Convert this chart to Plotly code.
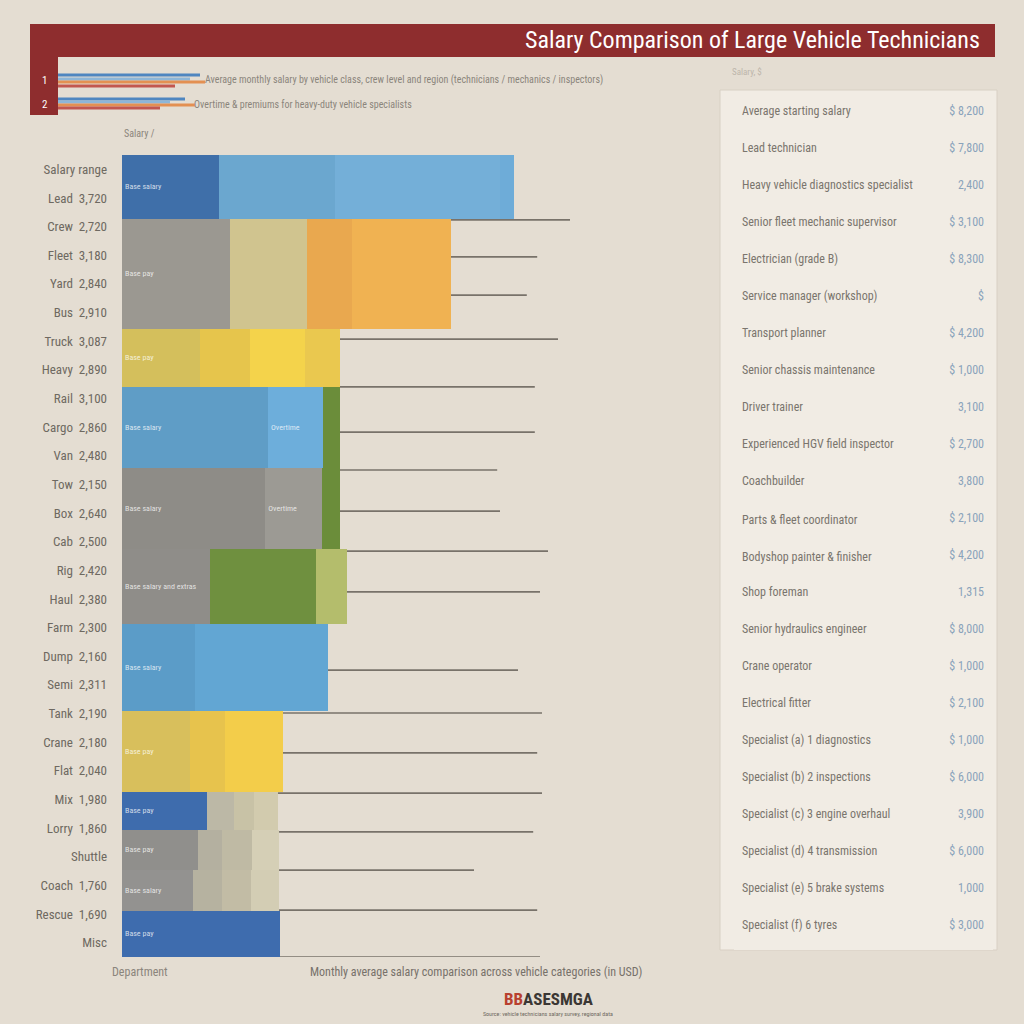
import numpy as np
import plotly.graph_objects as go

# ---------------- data ----------------
departments = ["Senior technicians", "Fleet mechanics", "Diesel specialists", "Electrical",
               "Body repair", "Hybrid systems", "Inspectors", "Apprentices",
               "Parts staff", "Service advisors", "Shop helpers", "Trainees"]
headcount = [22, 38, 20, 28, 28, 26, 30, 28, 13, 14, 14, 16]

seg_names = ["Base pay", "Overtime", "Shift premium", "Bonus"]
base_pay = [12.1, 13.5, 9.75, 18.25, 17.9, 11.0, 9.1, 8.5, 10.6, 9.5, 8.9, 19.75]
overtime = [14.5, 9.6, 6.25, 6.9, 7.1, 13.25, 16.6, 4.4, 3.4, 3.0, 3.6, 0]
shift_premium = [20.6, 5.6, 6.9, 2.1, 2.25, 3.9, 0, 7.25, 2.5, 3.75, 3.6, 0]
bonus = [1.75, 12.4, 4.4, 0, 0, 0, 0, 0, 3.0, 3.4, 3.5, 0]

bar_text = ["Base salary", "Base pay", "Base pay", "Base salary", "Base salary", "Base salary and extras",
            "Base salary", "Base pay", "Base pay", "Base pay", "Base salary", "Base pay"]
overtime_text = ["", "", "", "Overtime", "Overtime", "", "", "", "", "", "", ""]

benchmark_rows = [22.4, 35.2, 48.4, 63.6, 80.1, 95.7, 108.8, 123.0, 136.8, 150.9,
                  177.9, 192.7, 206.5, 220.4, 233.8, 247.0, 260.8, 277.0]
benchmark_salary = [56, 51.9, 50.6, 54.5, 51.6, 51.6, 46.9, 47.25, 53.25, 52.25,
                    49.5, 52.5, 51.9, 52.5, 51.4, 44, 51.9, 52.25]

row_labels = ["Salary range", "Lead\u20023,720", "Crew\u20022,720", "Fleet\u20023,180", "Yard\u20022,840",
              "Bus\u20022,910", "Truck\u20023,087", "Heavy\u20022,890", "Rail\u20023,100", "Cargo\u20022,860",
              "Van\u20022,480", "Tow\u20022,150", "Box\u20022,640", "Cab\u20022,500", "Rig\u20022,420",
              "Haul\u20022,380", "Farm\u20022,300", "Dump\u20022,160", "Semi\u20022,311", "Tank\u20022,190",
              "Crane\u20022,180", "Flat\u20022,040", "Mix\u20021,980", "Lorry\u20021,860", "Shuttle",
              "Coach\u20021,760", "Rescue\u20021,690", "Misc"]

panel_labels = ["Average starting salary", "Lead technician", "Heavy vehicle diagnostics specialist",
                "Senior fleet mechanic supervisor", "Electrician (grade B)", "Service manager (workshop)",
                "Transport planner", "Senior chassis maintenance", "Driver trainer",
                "Experienced HGV field inspector", "Coachbuilder", "Parts & fleet coordinator",
                "Bodyshop painter & finisher", "Shop foreman", "Senior hydraulics engineer",
                "Crane operator", "Electrical fitter", "Specialist (a) 1 diagnostics",
                "Specialist (b) 2 inspections", "Specialist (c) 3 engine overhaul",
                "Specialist (d) 4 transmission", "Specialist (e) 5 brake systems", "Specialist (f) 6 tyres"]
panel_values = ["$ 8,200", "$ 7,800", "2,400", "$ 3,100", "$ 8,300", "$", "$ 4,200", "$ 1,000",
                "3,100", "$ 2,700", "3,800", "$ 2,100", "$ 4,200", "1,315", "$ 8,000", "$ 1,000",
                "$ 2,100", "$ 1,000", "$ 6,000", "3,900", "$ 6,000", "1,000", "$ 3,000"]

# ---------------- styles ----------------
c_base = ["#3f6fa9", "#9b9891", "#d4bf5c", "#5f9dc6", "#8e8c87", "#8f8d89",
          "#5b9cc8", "#d8bf5c", "#3e6cad", "#908f8c", "#939290", "#3e6cae"]
c_over = ["#6ba7cf", "#d0c48f", "#e6c54c", "#6daedb", "#9c9a94", "#6f903f",
          "#62a6d3", "#e7c34d", "#bcb8a6", "#b4b0a0", "#b6b2a0", "#3e6cae"]
c_shift = ["#74afd8", "#e9a84f", "#f4d34b", "#6b8d3a", "#6b8d3a", "#b4bd6c",
           "#62a6d3", "#f3cd4a", "#c8c2a6", "#bfbaa4", "#c2bca5", "#3e6cae"]
c_bonus = ["#6eacd8", "#f0b252", "#eac84f", "#6b8d3a", "#6b8d3a", "#b4bd6c",
           "#62a6d3", "#f3cd4a", "#d2cbae", "#d5cfb6", "#d3cdb4", "#3e6cae"]

BG = "#e4ddd2"
NARROW = "Liberation Sans Narrow, Roboto Condensed, Arial Narrow, Liberation Sans, sans-serif"
W = H = 1024


def px(x):
    return x / W


def py(y):
    return 1 - y / H


hc = np.array(headcount, dtype=float)
centers = np.cumsum(hc) - hc / 2
total_rows = float(hc.sum())

fig = go.Figure()
for vals, cols, name, txt in [(base_pay, c_base, seg_names[0], bar_text),
                              (overtime, c_over, seg_names[1], overtime_text),
                              (shift_premium, c_shift, seg_names[2], None),
                              (bonus, c_bonus, seg_names[3], None)]:
    fig.add_trace(go.Bar(
        y=centers, x=vals, width=hc, orientation="h", name=name,
        marker=dict(color=cols, line=dict(width=0)),
        text=txt, textposition="inside" if txt else "none", insidetextanchor="start",
        textangle=0, constraintext="none",
        textfont=dict(size=8, color="rgba(255,255,255,0.75)", family=NARROW),
        showlegend=False, hoverinfo="skip"))

# right-hand panel table
fig.add_trace(go.Table(
    domain=dict(x=[px(734), px(992)], y=[py(952), py(98)]),
    columnwidth=[3.3, 1],
    header=dict(values=[panel_labels[0], panel_values[0]],
                fill_color="#f1ece4", line_color="#f1ece4", height=37,
                align=["left", "right"],
                font=dict(size=12, color=["#7a756d", "#8aa3bb"], family=NARROW)),
    cells=dict(values=[panel_labels[1:], panel_values[1:]],
               fill_color="#f1ece4", line_color="#f1ece4", height=37,
               align=["left", "right"],
               font=dict(size=12, color=["#7a756d", "#8aa3bb"], family=NARROW))))

shapes = []
# benchmark lines (drawn beneath bars)
for r, v in zip(benchmark_rows, benchmark_salary):
    shapes.append(dict(type="line", xref="x", yref="y", x0=0, x1=v, y0=r, y1=r,
                       line=dict(color="#78726a", width=1.6), layer="below"))
# title bar and side strip
shapes.append(dict(type="rect", xref="paper", yref="paper", x0=px(30), x1=px(995), y0=py(57), y1=py(24),
                   fillcolor="#8e2d2e", line=dict(width=0), layer="below"))
shapes.append(dict(type="rect", xref="paper", yref="paper", x0=px(30), x1=px(58), y0=py(115), y1=py(57),
                   fillcolor="#8e2d2e", line=dict(width=0), layer="below"))
# panel background
shapes.append(dict(type="rect", xref="paper", yref="paper", x0=px(720), x1=px(997), y0=py(950), y1=py(90),
                   fillcolor="#f1ece4", line=dict(color="#d8d0c4", width=1), layer="below"))
# legend swatches under title
for y, x1, col in [(75, 200, "#4f86c0"), (79, 190, "#8db6d8"), (82, 205, "#e39052"), (86, 175, "#c2574f"),
                   (99, 185, "#4f86c0"), (102, 170, "#8db6d8"), (105, 195, "#e39052"), (108, 160, "#c2574f")]:
    shapes.append(dict(type="line", xref="paper", yref="paper", x0=px(58), x1=px(x1), y0=py(y), y1=py(y),
                       line=dict(color=col, width=3)))

annotations = [
    dict(text="Salary Comparison of Large Vehicle Technicians", x=px(982), y=py(40), xanchor="right",
         yanchor="middle", font=dict(size=24, color="white", family=NARROW)),
    dict(text="1", x=px(44), y=py(80), xanchor="center", yanchor="middle",
         font=dict(size=11, color="white", family=NARROW)),
    dict(text="2", x=px(44), y=py(104), xanchor="center", yanchor="middle",
         font=dict(size=11, color="white", family=NARROW)),
    dict(text="Average monthly salary by vehicle class, crew level and region (technicians / mechanics / inspectors)",
         x=px(203), y=py(80), xanchor="left", yanchor="middle",
         font=dict(size=10, color="#8b857c", family=NARROW)),
    dict(text="Overtime & premiums for heavy-duty vehicle specialists",
         x=px(192), y=py(104), xanchor="left", yanchor="middle",
         font=dict(size=10, color="#8b857c", family=NARROW)),
    dict(text="Salary, $", x=px(730), y=py(72), xanchor="left", yanchor="middle",
         font=dict(size=9, color="#bdb6ab", family=NARROW)),
    dict(text="Salary /", x=px(122), y=py(133), xanchor="left", yanchor="middle",
         font=dict(size=10, color="#8b857c", family=NARROW)),
    dict(text="Department", x=px(110), y=py(972), xanchor="left", yanchor="middle",
         font=dict(size=12, color="#8b857c", family=NARROW)),
    dict(text="Monthly average salary comparison across vehicle categories (in USD)",
         x=px(308), y=py(972), xanchor="left", yanchor="middle",
         font=dict(size=12, color="#77716a", family=NARROW)),
    dict(text="<b><span style='color:#b8402f'>BB</span>ASESMGA</b>", x=px(548), y=py(999),
         xanchor="center", yanchor="middle", font=dict(size=17, color="#3b3734", family=NARROW)),
    dict(text="Source: vehicle technicians salary survey, regional data", x=px(548), y=py(1013),
         xanchor="center", yanchor="middle", font=dict(size=6, color="#6e6961", family=NARROW)),
]
for a in annotations:
    a.update(xref="paper", yref="paper", showarrow=False)

tickvals = (np.arange(len(row_labels)) + 0.5) * total_rows / len(row_labels)

fig.update_layout(
    width=W, height=H, margin=dict(l=0, r=0, t=0, b=0),
    paper_bgcolor=BG, plot_bgcolor=BG,
    barmode="stack", showlegend=False,
    xaxis=dict(domain=[px(122), px(602)], range=[0, 60], visible=False),
    yaxis=dict(domain=[py(957), py(155)], range=[total_rows, 0],
               tickmode="array", tickvals=tickvals, ticktext=row_labels,
               showgrid=False, zeroline=False, showline=False, ticks="",
               ticklabelstandoff=14,
               tickfont=dict(size=13, color="#6e6961", family=NARROW)),
    shapes=shapes, annotations=annotations,
)

fig.write_html("out.html", config={"displayModeBar": False},
               post_script="document.body.style.margin='0';document.body.style.overflow='hidden';")
